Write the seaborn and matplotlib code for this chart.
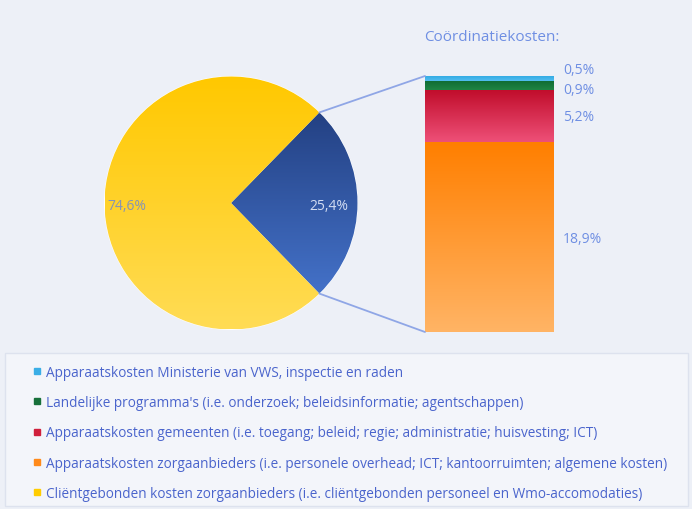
import numpy as np
import matplotlib
matplotlib.use("Agg")
import matplotlib.pyplot as plt
import seaborn as sns
from matplotlib.colors import LinearSegmentedColormap
from matplotlib.patches import ConnectionPatch, Rectangle
from matplotlib.lines import Line2D

# data
pie_labels = ["Coördinatiekosten", "Cliëntgebonden kosten zorgaanbieders"]
pie_values = [25.4, 74.6]
pie_texts = ["25,4%", "74,6%"]

bar_values = [18.9, 5.2, 0.9, 0.5]  # bottom to top
bar_texts = ["18,9%", "5,2%", "0,9%", "0,5%"]

legend_labels = [
    "Apparaatskosten Ministerie van VWS, inspectie en raden",
    "Landelijke programma's (i.e. onderzoek; beleidsinformatie; agentschappen)",
    "Apparaatskosten gemeenten (i.e. toegang; beleid; regie; administratie; huisvesting; ICT)",
    "Apparaatskosten zorgaanbieders (i.e. personele overhead; ICT; kantoorruimten; algemene kosten)",
    "Cliëntgebonden kosten zorgaanbieders (i.e. cliëntgebonden personeel en Wmo-accomodaties)",
]
legend_colors = ["#3aaee6", "#17703a", "#d0203c", "#ff8a1a", "#ffcc00"]

# gradients (top colour, bottom colour)
pie_grad = [("#1d3775", "#4a7bd6"), ("#ffc800", "#ffdc55")]
bar_grad = [("#ff7f00", "#ffb465"), ("#c00c2a", "#ee5078"), ("#0f6a33", "#1f8444"), ("#2ea8e2", "#52bdf0")]

text_blue = "#4a64cc"
label_blue = "#6f8fe3"
bg = "#edf0f7"

sns.set_theme(style="white")
plt.rcParams["font.family"] = ["Open Sans", "DejaVu Sans"]

W, H = 692, 510
fig = plt.figure(figsize=(W / 100, H / 100), dpi=100, facecolor=bg)


def px_axes(x0, y0, x1, y1):
    return fig.add_axes([x0 / W, 1 - y1 / H, (x1 - x0) / W, (y1 - y0) / H])


def fill_gradient(ax, patch, top, bottom, extent):
    cmap = LinearSegmentedColormap.from_list("g", [bottom, top])
    grad = np.linspace(0, 1, 256).reshape(-1, 1)
    im = ax.imshow(grad, cmap=cmap, extent=extent, origin="lower",
                   aspect="auto", zorder=patch.get_zorder() + 0.1)
    im.set_clip_path(patch)


# pie
ax_pie = px_axes(102, 75, 360, 333)
ax_pie.set_facecolor("none")
half = pie_values[0] / 100 * 360 / 2
wedges, _ = ax_pie.pie(pie_values, startangle=-half, counterclock=True,
                       colors=[c[1] for c in pie_grad],
                       wedgeprops=dict(linewidth=0.8, edgecolor="white"))
for w, (top, bot) in zip(wedges, pie_grad):
    fill_gradient(ax_pie, w, top, bot, (-1, 1, -1, 1))
ax_pie.set_xlim(-1.02, 1.02)
ax_pie.set_ylim(-1.02, 1.02)
ax_pie.set_aspect("equal")
ax_pie.text(0.77, -0.02, pie_texts[0], ha="center", va="center", fontsize=10, color="#d3ddf3", zorder=5)
ax_pie.text(-0.82, -0.02, pie_texts[1], ha="center", va="center", fontsize=10, color="#8694b5", zorder=5)
ax_pie.axis("off")

# stacked bar
ax_bar = px_axes(425, 77, 554, 333)
ax_bar.set_facecolor("none")
total = sum(bar_values)
bottom = 0
bars = []
for v, (top, bot) in zip(bar_values, bar_grad):
    b = ax_bar.bar(0, v, bottom=bottom, width=1, color=bot, edgecolor="#f3d5c8", linewidth=0.6)[0]
    fill_gradient(ax_bar, b, top, bot, (-0.5, 0.5, bottom, bottom + v))
    bars.append((bottom, v))
    bottom += v
ax_bar.set_xlim(-0.5, 0.5)
ax_bar.set_ylim(0, total)
ax_bar.axis("off")

label_y = [bars[0][0] + bars[0][1] / 2 - 0.1, bars[1][0] + bars[1][1] / 2,
           total - 1.3, total + 0.6]
for t, y in zip(bar_texts, label_y):
    ax_bar.text(0.57, y, t, ha="left", va="center", fontsize=10, color=label_blue, clip_on=False)
ax_bar.text(-0.01, 1.155, "Coördinatiekosten:", transform=ax_bar.transAxes,
            ha="left", va="center", fontsize=11, color=label_blue)

# connection lines
theta = np.deg2rad(half)
for sgn, yb in [(1, total), (-1, 0)]:
    con = ConnectionPatch(xyA=(np.cos(theta), sgn * np.sin(theta)), coordsA=ax_pie.transData,
                          xyB=(-0.5, yb), coordsB=ax_bar.transData,
                          color="#8fa6e6", linewidth=1.3)
    fig.add_artist(con)

# legend box
fig.add_artist(Rectangle((5 / W, 1 - 507 / H), 683 / W, 153 / H, transform=fig.transFigure,
                         facecolor="#f3f5fa", edgecolor="#dde2ee", linewidth=1))
handles = [Line2D([], [], marker="s", linestyle="none", markersize=5, color=c) for c in legend_colors]
leg = fig.legend(handles, legend_labels, loc="upper left",
                 bbox_to_anchor=(34 / W, 1 - 366 / H), frameon=False,
                 fontsize=9.8, labelspacing=1.12, handlelength=0.5, handletextpad=0.35,
                 borderaxespad=0, borderpad=0)
for t in leg.get_texts():
    t.set_color(text_blue)

fig.savefig("out.png", dpi=100, facecolor=bg)
